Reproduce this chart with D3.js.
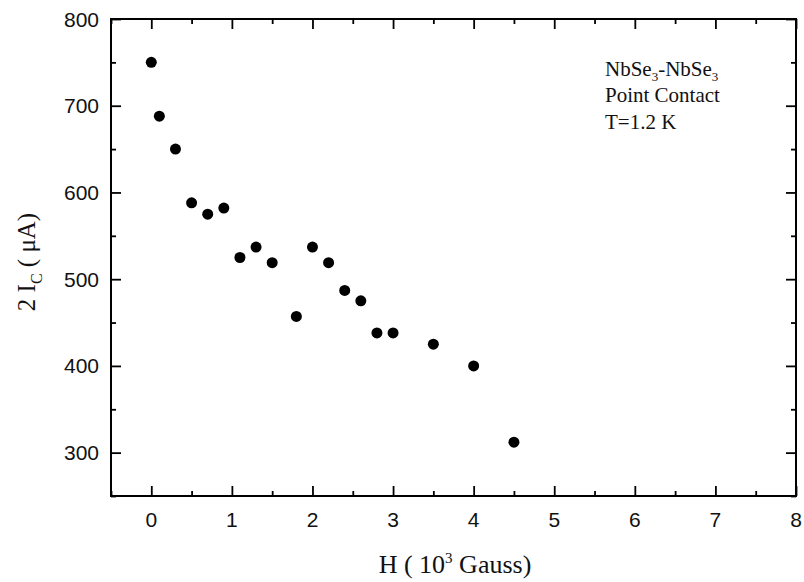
<!DOCTYPE html>
<html><head><meta charset="utf-8">
<script src="https://cdn.jsdelivr.net/npm/d3@7"></script>
<style>body{margin:0;background:#fff}</style>
</head><body>
<svg id="c" width="804" height="582"></svg>
<script>
const fieldH = [0, 0.1, 0.3, 0.5, 0.7, 0.9, 1.1, 1.3, 1.5, 1.8, 2.0, 2.2, 2.4, 2.6, 2.8, 3.0, 3.5, 4.0, 4.5];
const current2Ic = [750, 688, 650, 588, 575, 582, 525, 537, 519, 457, 537, 519, 487, 475, 438, 438, 425, 400, 312];
const xMajorTicks = [0, 1, 2, 3, 4, 5, 6, 7, 8];
const xMinorTicks = [-0.5, 0.5, 1.5, 2.5, 3.5, 4.5, 5.5, 6.5, 7.5];
const yMajorTicks = [300, 400, 500, 600, 700, 800];
const yMinorTicks = [250, 350, 450, 550, 650, 750];
const noteLines = ["Point Contact", "T=1.2 K"];

const svg = d3.select("#c");
const L = 111, R = 796, T = 19, B = 496;
const x = d3.scaleLinear().domain([-0.5, 8]).range([L, R]);
const y = d3.scaleLinear().domain([250, 800]).range([B, T]);

const tickStyle = g => {
  g.select(".domain").remove();
  g.selectAll("line").attr("stroke", "#000").attr("stroke-width", 1.8);
  g.selectAll("text").remove();
};

// bottom
svg.append("g").attr("transform", `translate(0,${B})`)
  .call(d3.axisBottom(x).tickValues(xMajorTicks).tickSize(-10)).call(tickStyle);
svg.append("g").attr("transform", `translate(0,${B})`)
  .call(d3.axisBottom(x).tickValues(xMinorTicks).tickSize(-5)).call(tickStyle);
// top
svg.append("g").attr("transform", `translate(0,${T})`)
  .call(d3.axisTop(x).tickValues(xMajorTicks).tickSize(-10)).call(tickStyle);
svg.append("g").attr("transform", `translate(0,${T})`)
  .call(d3.axisTop(x).tickValues(xMinorTicks).tickSize(-5)).call(tickStyle);
// left
svg.append("g").attr("transform", `translate(${L},0)`)
  .call(d3.axisLeft(y).tickValues(yMajorTicks).tickSize(-10)).call(tickStyle);
svg.append("g").attr("transform", `translate(${L},0)`)
  .call(d3.axisLeft(y).tickValues(yMinorTicks).tickSize(-5)).call(tickStyle);
// right
svg.append("g").attr("transform", `translate(${R},0)`)
  .call(d3.axisRight(y).tickValues(yMajorTicks).tickSize(-10)).call(tickStyle);
svg.append("g").attr("transform", `translate(${R},0)`)
  .call(d3.axisRight(y).tickValues(yMinorTicks).tickSize(-5)).call(tickStyle);

// frame
svg.append("rect").attr("x", L).attr("y", T).attr("width", R - L).attr("height", B - T)
  .attr("fill", "none").attr("stroke", "#000").attr("stroke-width", 2);

// tick labels
const sans = "'Liberation Sans', Arial, Helvetica, sans-serif";
svg.append("g").selectAll("text").data(xMajorTicks).join("text")
  .attr("x", d => x(d)).attr("y", 527).attr("text-anchor", "middle")
  .attr("font-family", sans).attr("font-size", 21).attr("fill", "#111").text(d => d);
svg.append("g").selectAll("text").data(yMajorTicks).join("text")
  .attr("x", 99).attr("y", d => y(d)).attr("dy", "0.36em").attr("text-anchor", "end")
  .attr("font-family", sans).attr("font-size", 21).attr("fill", "#111").text(d => d);

// points
svg.append("g").selectAll("circle").data(fieldH).join("circle")
  .attr("cx", d => x(d)).attr("cy", (d, i) => y(current2Ic[i])).attr("r", 5.5).attr("fill", "#000");

// axis titles
const serif = "'Liberation Serif', 'Times New Roman', Times, serif";
const xt = svg.append("text").attr("x", 455).attr("y", 573).attr("text-anchor", "middle")
  .attr("font-family", serif).attr("font-size", 26).attr("fill", "#111");
xt.append("tspan").text("H ( 10");
xt.append("tspan").attr("dy", -10).attr("font-size", 15).text("3");
xt.append("tspan").attr("dy", 10).text(" Gauss)");

const yt = svg.append("text").attr("transform", "translate(35,262) rotate(-90)").attr("text-anchor", "middle")
  .attr("font-family", serif).attr("font-size", 25).attr("fill", "#111");
yt.append("tspan").text("2 I");
yt.append("tspan").attr("dy", 7).attr("font-size", 16).text("C");
yt.append("tspan").attr("dy", -7).text(" ( μA)");

// annotation
const n1 = svg.append("text").attr("x", 605).attr("y", 76)
  .attr("font-family", serif).attr("font-size", 21).attr("fill", "#111");
n1.append("tspan").text("NbSe");
n1.append("tspan").attr("dy", 5).attr("font-size", 13).text("3");
n1.append("tspan").attr("dy", -5).text("-NbSe");
n1.append("tspan").attr("dy", 5).attr("font-size", 13).text("3");
svg.append("g").selectAll("text").data(noteLines).join("text")
  .attr("x", 605).attr("y", (d, i) => 102 + i * 27)
  .attr("font-family", serif).attr("font-size", 21).attr("fill", "#111").text(d => d);
</script>
</body></html>
